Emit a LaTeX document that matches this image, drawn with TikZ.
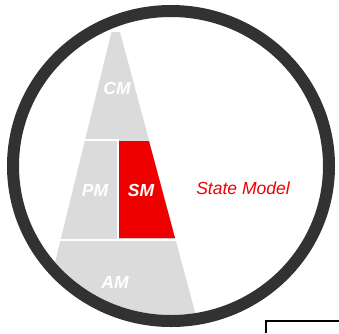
\documentclass[tikz,border=0pt]{standalone}
\usepackage{fontspec}
\setmainfont{Liberation Sans}
\usetikzlibrary{positioning}
\definecolor{ringgray}{HTML}{323232}
\definecolor{layergray}{HTML}{DBDBDB}
\definecolor{smred}{HTML}{EE0000}

\begin{document}
\begin{tikzpicture}[x=1pt,y=-1pt,
  lab/.style={inner sep=0pt,font=\fontsize{17.5}{20}\selectfont\itshape},
  layer/.style={lab,text=white,font=\fontsize{17.5}{20}\selectfont\bfseries\itshape}]
  \useasboundingbox (0,0) rectangle (339,333);
  % pyramid of layers, cut by the inside of the ring
  \begin{scope}
    \clip (171,166) ellipse [x radius=152, y radius=149];
    \fill[layergray] (111.5,32) -- (120,32) -- (202.5,340) -- (36,340) -- cycle;
    \fill[smred] (118.5,141) -- (149,141) -- (175,238) -- (118.5,238) -- cycle;
    \draw[white,line width=2] (70,140) -- (117.5,140) -- (117.5,239.5);
    \draw[white,line width=2] (40,239.5) -- (200,239.5);
  \end{scope}
  \node[layer] (cm) at (117,88) {CM};
  \node[layer] (pm) at (95,190) {PM};
  \node[layer] (sm) at (141,190) {SM};
  \node[layer] (am) at (115,282) {AM};
  \node[lab,text=smred] (state) at (243,188) {State Model};
  % ring
  \draw[ringgray,line width=12] (171,166) ellipse [x radius=158, y radius=155];
  % box cut off at the corner
  \draw[black,line width=1.5] (339,321) -| (266,333);
\end{tikzpicture}
\end{document}
